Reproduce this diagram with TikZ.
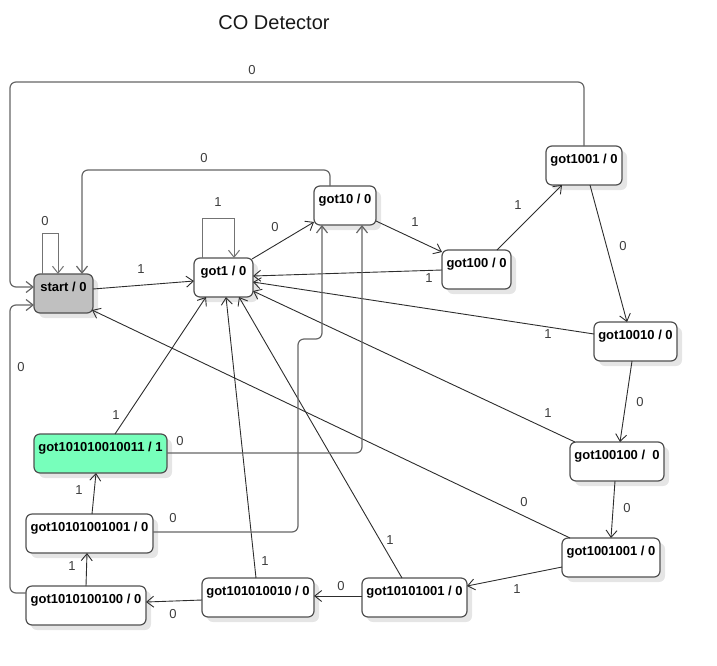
\documentclass[tikz,border=0pt]{standalone}
\usepackage{fontspec}
\setmainfont{Liberation Sans}
\usetikzlibrary{arrows.meta,calc,shadows}
\definecolor{startgray}{RGB}{192,192,192}
\definecolor{mint}{RGB}{119,255,187}
\definecolor{linecol}{RGB}{45,45,45}
\definecolor{boxcol}{RGB}{80,80,80}
\definecolor{lblcol}{RGB}{60,60,60}
\begin{document}
\begin{tikzpicture}[x=1pt,y=-1pt,
  st/.style={draw=boxcol, line width=1.2pt, rounded corners=6pt, fill=white,
    font=\bfseries\fontsize{13}{15}\selectfont, inner xsep=2pt, inner ysep=5pt,
    text height=12pt, text depth=17pt, anchor=north west, outer sep=0pt,
    drop shadow={shadow xshift=5pt, shadow yshift=-5pt, fill=black!10, opacity=1}},
  edge/.style={draw=linecol, line width=0.9pt, -{Straight Barb[length=7pt,width=11pt]}},
  ortho/.style={edge, draw=black!60, line width=1.2pt, rounded corners=6pt},
  loope/.style={edge, draw=black!55, line width=1pt},
  lbl/.style={font=\fontsize{13}{15}\selectfont, text=lblcol, inner sep=0pt}]
\useasboundingbox (0,0) rectangle (717,665);
\node[font=\fontsize{20}{24}\selectfont, text=black!90] (title) at (274,23) {CO Detector};

% states
\node[st, fill=startgray, minimum width=59pt] (s) at (34,274) {start / 0};
\node[st, minimum width=59pt] (g1) at (194,258) {got1 / 0};
\node[st, minimum width=62pt] (g10) at (314,186) {got10 / 0};
\node[st, minimum width=69pt] (g100) at (442,250) {got100 / 0};
\node[st, minimum width=76pt] (g1001) at (546,146) {got1001 / 0};
\node[st, minimum width=83pt] (g10010) at (594,322) {got10010 / 0};
\node[st, minimum width=94pt] (g100100) at (570,442) {got100100 /\ \ 0};
\node[st, minimum width=98pt] (g1001001) at (562,538) {got1001001 / 0};
\node[st, minimum width=105pt] (g10101001) at (362,578) {got10101001 / 0};
\node[st, minimum width=112pt] (g101010010) at (202,578) {got101010010 / 0};
\node[st, minimum width=120pt] (g1010100100) at (26,586) {got1010100100 / 0};
\node[st, minimum width=127pt] (g10101001001) at (26,514) {got10101001001 / 0};
\node[st, fill=mint, minimum width=133pt] (g101010010011) at (34,434) {got101010010011 / 1};

% bend coordinates
\coordinate (c9) at (10,82);
\coordinate (c22) at (10,305);
\coordinate (c23) at (298,339);

% 1 start self loop
\draw[loope] ($(s.north west)+(8,0)$) -- ++(0,-41) -| ($(s.north west)+(24,0)$);
\node[lbl] (l1) at (45,221) {0};
% 2 start -> got1
\draw[edge] ($(s.north west)+(59,15)$) -- ($(g1.north west)+(0,23)$);
\node[lbl] (l2) at (141,269) {1};
% 3 got1 self loop
\draw[loope] ($(g1.north west)+(8,0)$) -- ++(0,-40) -| ($(g1.north west)+(40,0)$);
\node[lbl] (l3) at (218,202) {1};
% 4 got1 -> got10
\draw[edge] ($(g1.north east)+(-1,1)$) -- ($(g10.south west)+(0,-3)$);
\node[lbl] (l4) at (275,227) {0};
% 5 got10 -> start
\draw[ortho] ($(g10.north west)+(16,0)$) -- ++(0,-16) -| ($(s.north west)+(48,0)$);
\node[lbl] (l5) at (204,158) {0};
% 6 got10 -> got100
\draw[edge] ($(g10.north east)+(0,35)$) -- ($(g100.north west)+(0,2)$);
\node[lbl] (l6) at (415,222) {1};
% 7 got100 -> got1001
\draw[edge] ($(g100.north west)+(55,0)$) -- ($(g1001.south west)+(16,0)$);
\node[lbl] (l7) at (518,205) {1};
% 8 got100 -> got1
\draw[edge] ($(g100.north west)+(0,20)$) -- ($(g1.north east)+(0,18)$);
\node[lbl] (l8) at (429,278) {1};
% 9 got1001 -> start
\draw[ortho] ($(g1001.north west)+(38,0)$) |- (c9) |- ($(s.north west)+(0,13)$);
\node[lbl] (l9) at (252,70) {0};
% 10 got1001 -> got10010
\draw[edge] ($(g1001.south west)+(44,0)$) -- ($(g10010.north west)+(33,0)$);
\node[lbl] (l10) at (623,246) {0};
% 11 got10010 -> got1
\draw[edge] ($(g10010.north west)+(0,12)$) -- ($(g1.north east)+(0,24)$);
\node[lbl] (l11) at (548,334) {1};
% 12 got10010 -> got100100
\draw[edge] ($(g10010.south west)+(38,0)$) -- ($(g100100.north west)+(50,0)$);
\node[lbl] (l12) at (640,402) {0};
% 13 got100100 -> got1
\draw[edge] ($(g100100.north west)+(5,0)$) -- ($(g1.north east)+(0,33)$);
\node[lbl] (l13) at (548,413) {1};
% 14 got100100 -> got1001001
\draw[edge] ($(g100100.south west)+(45,0)$) -- ($(g1001001.north west)+(49,0)$);
\node[lbl] (l14) at (627,508) {0};
% 15 got1001001 -> start
\draw[edge] ($(g1001001.north west)+(8,0)$) -- ($(s.south east)+(-1,-3)$);
\node[lbl] (l15) at (524,502) {0};
% 16 got1001001 -> got10101001
\draw[edge] ($(g1001001.north west)+(0,29)$) -- ($(g10101001.north east)+(0,8)$);
\node[lbl] (l16) at (517,589) {1};
% 17 got10101001 -> got1
\draw[edge] ($(g10101001.north west)+(40,0)$) -- ($(g1.south west)+(45,0)$);
\node[lbl] (l17) at (390,540) {1};
% 18 got10101001 -> got101010010
\draw[edge] ($(g10101001.north west)+(0,18)$) -- ($(g101010010.north east)+(0,18)$);
\node[lbl] (l18) at (341,586) {0};
% 19 got101010010 -> got1
\draw[edge] ($(g101010010.north west)+(54,0)$) -- ($(g1.south west)+(32,0)$);
\node[lbl] (l19) at (265,561) {1};
% 20 got101010010 -> got1010100100
\draw[edge] ($(g101010010.north west)+(0,22)$) -- ($(g1010100100.north east)+(0,16)$);
\node[lbl] (l20) at (173,614) {0};
% 21 got1010100100 -> got10101001001
\draw[edge] ($(g1010100100.north west)+(60,0)$) -- ($(g10101001001.south west)+(61,0)$);
\node[lbl] (l21) at (72,566) {1};
% 22 got1010100100 -> start
\draw[ortho] ($(g1010100100.north west)+(0,7)$) -| (c22) -- ($(s.north west)+(0,31)$);
\node[lbl] (l22) at (21,367) {0};
% 23 got10101001001 -> got10
\draw[ortho] ($(g10101001001.north east)+(0,18)$) -| (c23) -| ($(g10.south west)+(8,0)$);
\node[lbl] (l23) at (173,518) {0};
% 24 got101010010011 -> got10
\draw[ortho] ($(g101010010011.north east)+(0,19)$) -| ($(g10.south west)+(48,0)$);
\node[lbl] (l24) at (180,441) {0};
% 25 got101010010011 -> got1
\draw[edge] ($(g101010010011.north west)+(81,0)$) -- ($(g1.south west)+(12,0)$);
\node[lbl] (l25) at (116,415) {1};
% 26 got10101001001 -> got101010010011
\draw[edge] ($(g10101001001.north west)+(66,0)$) -- ($(g101010010011.south west)+(62,0)$);
\node[lbl] (l26) at (79,490) {1};
\end{tikzpicture}
\end{document}
